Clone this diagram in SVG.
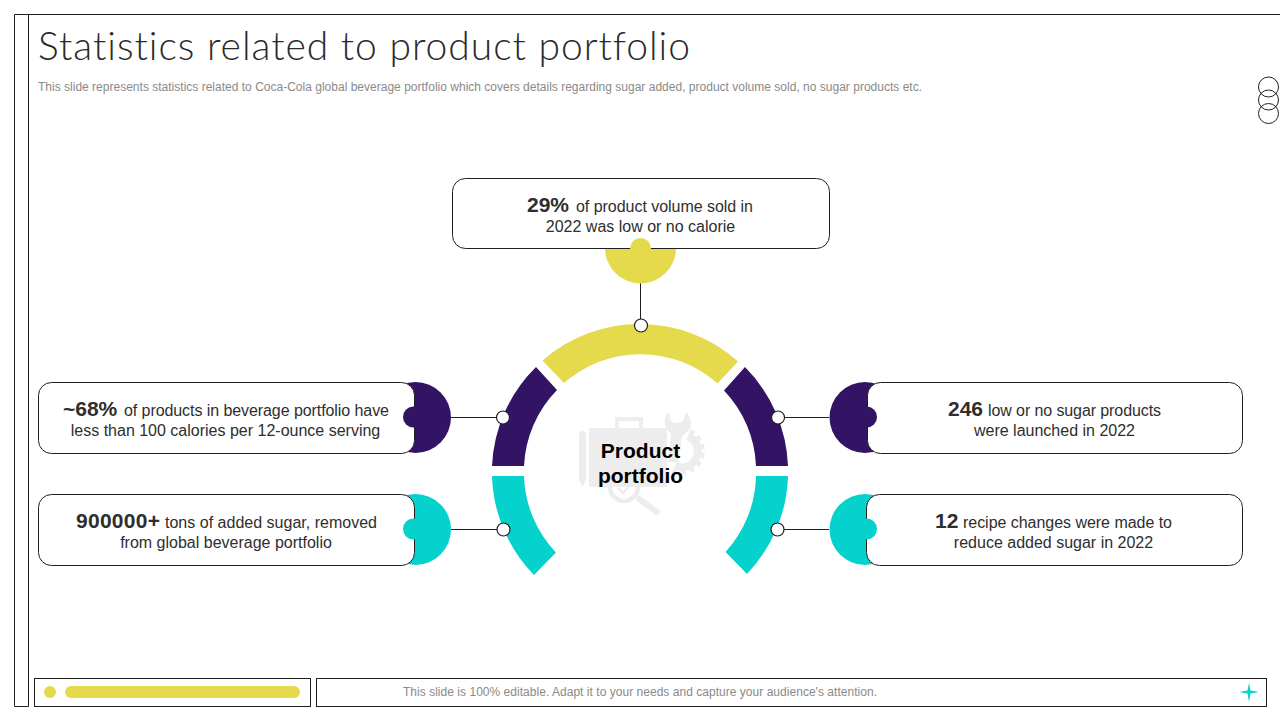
<svg xmlns="http://www.w3.org/2000/svg" width="1280" height="720" viewBox="0 0 1280 720">
<style>
.ln{fill:none;stroke:#1f1f1f;stroke-width:1}
.box{fill:#fff;stroke:#1f1f1f;stroke-width:1}
.dot{fill:#fff;stroke:#1f1f1f;stroke-width:1.2}
.y{fill:#e5da4b}.p{fill:#331464}.t{fill:#05d2cc}
text{font-family:"Liberation Sans",Arial,sans-serif}
.b{font-size:16px;fill:#2e2e2e}
.n{font-size:21px;font-weight:700;fill:#2e2e2e}
.s{font-size:12px;fill:#8a8a8a}
.i{fill:#ededed}.is{fill:none;stroke:#ededed}
</style>
<rect width="1280" height="720" fill="#fff"/>
<g id="frame">
<path class="ln" d="M1280 14.500H14.500V706.500H28.500V14.500"/>
<rect class="ln" x="34.500" y="678.500" width="276" height="28"/>
<rect class="ln" x="316.500" y="678.500" width="950" height="28"/>
<circle class="y" cx="50" cy="692" r="6"/>
<rect class="y" x="65" y="686" width="235" height="12" rx="6"/>
<path class="t" d="M1249 683L1250.500 690.500L1259 692L1250.500 693.500L1249 702L1247.500 693.500L1239 692L1247.500 690.500Z"/>
<g class="ln"><circle cx="1268.500" cy="87" r="10"/><circle cx="1268.500" cy="100" r="10"/><circle cx="1268.500" cy="113.500" r="10"/></g>
</g>
<g id="header">
<text x="38" y="60" font-size="39" fill="#2a2a2a" style="font-family:Lato,'Liberation Sans',sans-serif;font-weight:300;font-variant-ligatures:none" textLength="652" lengthAdjust="spacing">Statistics related to product portfolio</text>
<text class="s" x="38" y="91" textLength="884" lengthAdjust="spacing">This slide represents statistics related to Coca-Cola global beverage portfolio which covers details regarding sugar added, product volume sold, no sugar products etc.</text>
<text class="s" x="403" y="696" textLength="474" lengthAdjust="spacing">This slide is 100% editable. Adapt it to your needs and capture your audience's attention.</text>
</g>
<g id="ring">
<path class="y" d="M542.500 360.500A147.500 147.500 0 0 1 738 361.500L717.500 383.500A116 116 0 0 0 564 383Z"/>
<path class="p" d="M536 367L557 390A116 116 0 0 0 524 466H492A148 148 0 0 1 536 367Z"/>
<path class="p" d="M745 367L724 390.500A116 116 0 0 1 756 466H788A148 148 0 0 0 745 367Z"/>
<path class="t" d="M492 476H524A116 116 0 0 0 556 552.500L534 575A148 148 0 0 1 492 476Z"/>
<path class="t" d="M788 476H756A116 116 0 0 1 725.500 552L747 574A148 148 0 0 0 788 476Z"/>
</g>
<g id="icon">
<path class="i" fill-rule="evenodd" d="M615 428V417H643V428H667V487H589V428ZM619 421V428H639V421Z"/>
<path class="i" d="M579 433Q582.500 428 586 433V480L582.500 487L579 480Z"/>
<path class="i" d="M668 412L671 421Q677 425 683 421L686 412Q694 420 689 430L682 436L678 462H668L671 434Q660 424 668 412Z"/>
<path class="is" d="M688 436A16 16 0 0 1 675 466" stroke-width="8"/>
<path class="is" d="M690 431A21 21 0 0 1 672 471" stroke-width="4" stroke-dasharray="5 4"/>
<circle class="is" cx="624" cy="487" r="14" stroke-width="4.500"/>
<path class="is" d="M618 488L623 493L631 484" stroke-width="2.500"/>
<path class="is" d="M639 499L657 512" stroke-width="6" stroke-linecap="round"/>
</g>
<g id="center"><text x="640.500" y="458" text-anchor="middle" font-size="21" font-weight="700" fill="#000">Product</text><text x="640.500" y="483" text-anchor="middle" font-size="21" font-weight="700" fill="#000">portfolio</text></g>
<g id="connectors" class="ln">
<path d="M640.500 283V320"/>
<path d="M451 417.500H497"/>
<path d="M451 529.500H497"/>
<path d="M784 417.500H829"/>
<path d="M784 529.500H829"/>
</g>
<g id="node-top">
<circle class="y" cx="640.500" cy="248" r="35.500"/>
<rect class="box" x="452.500" y="178.500" width="377" height="70" rx="13"/>
<circle class="y" cx="640.500" cy="248.500" r="10.500"/>
<text x="527" y="212" class="n">29%</text>
<text x="576" y="212" class="b" textLength="177" lengthAdjust="spacing">of product volume sold in</text>
<text x="640.500" y="232" class="b" text-anchor="middle">2022 was low or no calorie</text>
<circle class="dot" cx="641" cy="325.500" r="6.500"/>
</g>
<g id="node-left-1">
<circle class="p" cx="415.500" cy="417.500" r="35.500"/>
<rect class="box" x="38.500" y="382.500" width="376" height="71" rx="13"/>
<circle class="p" cx="413.500" cy="417" r="10.500"/>
<text x="63" y="416" class="n">~68%</text>
<text x="124" y="416" class="b" textLength="265" lengthAdjust="spacing">of products in beverage portfolio have</text>
<text x="225.500" y="436" class="b" text-anchor="middle">less than 100 calories per 12-ounce serving</text>
<circle class="dot" cx="503" cy="417.500" r="6.500"/>
</g>
<g id="node-left-2">
<circle class="t" cx="415.500" cy="529.500" r="35.500"/>
<rect class="box" x="38.500" y="494.500" width="376" height="71" rx="13"/>
<circle class="t" cx="413.500" cy="529" r="10.500"/>
<text x="76" y="528" class="n" textLength="84" lengthAdjust="spacing">900000+</text>
<text x="165" y="528" class="b" textLength="212" lengthAdjust="spacing">tons of added sugar, removed</text>
<text x="226" y="548" class="b" text-anchor="middle">from global beverage portfolio</text>
<circle class="dot" cx="503.500" cy="529.500" r="6.500"/>
</g>
<g id="node-right-1">
<circle class="p" cx="865" cy="417.500" r="35.500"/>
<rect class="box" x="867.500" y="382.500" width="375" height="71" rx="13"/>
<circle class="p" cx="866.500" cy="417" r="10.500"/>
<text x="948" y="416" class="n">246</text>
<text x="988" y="416" class="b" textLength="173" lengthAdjust="spacing">low or no sugar products</text>
<text x="1054.500" y="436" class="b" text-anchor="middle">were launched in 2022</text>
<circle class="dot" cx="778" cy="417.500" r="6.500"/>
</g>
<g id="node-right-2">
<circle class="t" cx="865" cy="529.500" r="35.500"/>
<rect class="box" x="866.500" y="494.500" width="376" height="71" rx="13"/>
<circle class="t" cx="866.500" cy="529" r="10.500"/>
<text x="935" y="528" class="n">12</text>
<text x="963" y="528" class="b" textLength="209" lengthAdjust="spacing">recipe changes were made to</text>
<text x="1053.500" y="548" class="b" text-anchor="middle">reduce added sugar in 2022</text>
<circle class="dot" cx="777.500" cy="529.500" r="6.500"/>
</g>
</svg>
